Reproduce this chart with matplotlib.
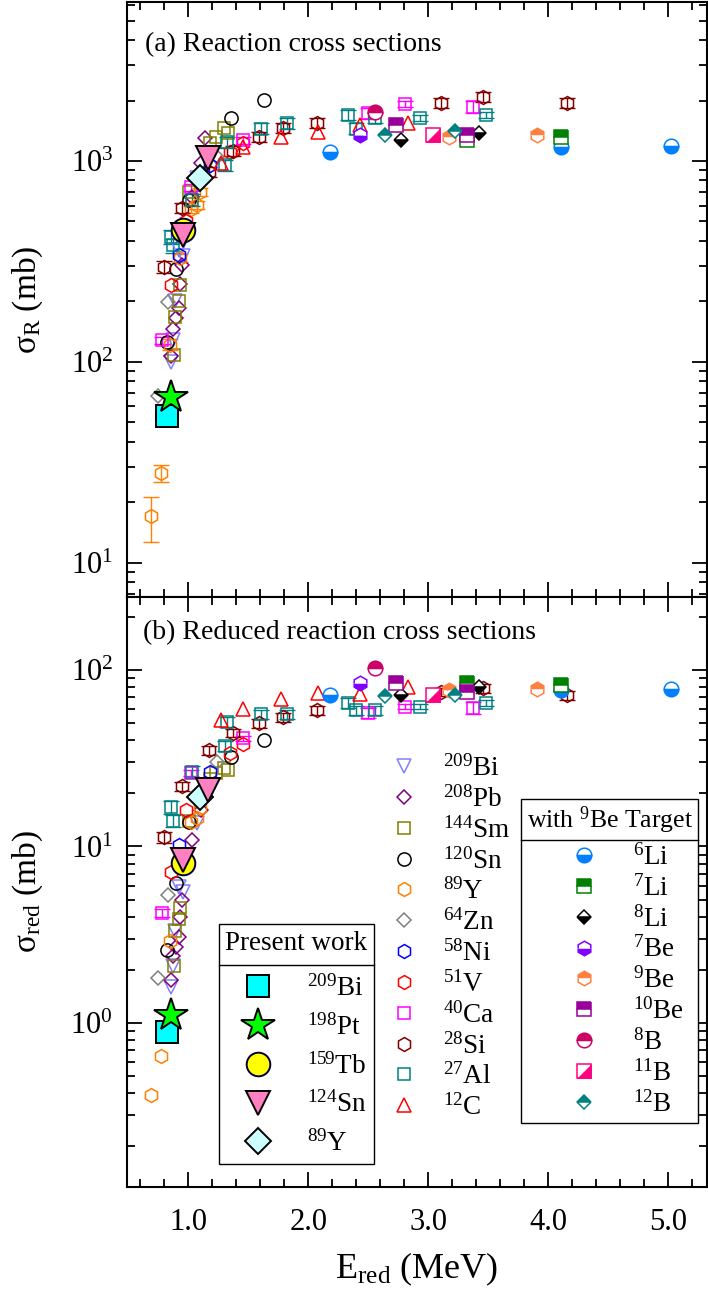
import matplotlib
matplotlib.use('Agg')
from matplotlib import pyplot as plt
from matplotlib.ticker import MultipleLocator, LogLocator, NullFormatter, FormatStrFormatter
from matplotlib.lines import Line2D

plt.rcParams['font.family'] = ['Liberation Serif', 'DejaVu Serif']
plt.rcParams['mathtext.fontset'] = 'custom'
plt.rcParams['mathtext.rm'] = 'Liberation Serif'
plt.rcParams['mathtext.it'] = 'Liberation Serif:italic'
plt.rcParams['mathtext.bf'] = 'Liberation Serif:bold'

# ---- literature data (E_red in MeV, sigma_R in mb, sigma_red in mb) ----
bi209_E = [0.855, 0.87, 0.89, 0.92, 0.96, 1.07]
bi209_R = [100, 128, 200, 360, 335, 823]
bi209_red = [1.6, 2.1, 3.3, 5.9, 5.5, 13.5]

pb208_E = [0.86, 0.875, 0.90, 0.92, 0.93, 0.95, 1.03, 1.11, 1.14]
pb208_R = [107, 146, 165, 186, 244, 303, 665, 976, 1300]
pb208_red = [1.75, 2.4, 2.7, 3.05, 4.0, 4.97, 10.9, 16, 21]

sm144_E = [0.88, 0.89, 0.92, 0.93, 1.01, 1.18, 1.23, 1.30, 1.33]
sm144_R = [108, 167, 200, 240, 700, 1230, 1320, 1460, 1380]
sm144_red = [2.1, 3.3, 3.9, 4.5, 14, 24, 26, 28, 27]

sn120_E = [0.82, 0.90, 1.01, 1.36, 1.63]
sn120_R = [125, 290, 640, 1632, 2015]
sn120_red = [2.6, 6.2, 13.7, 32, 40]

y89_E = [0.69, 0.77, 0.85, 0.93, 1.02, 1.07, 1.10]
y89_R = [17, 28, 122, 330, 575, 604, 703]
y89_red = [0.39, 0.65, 2.9, 8.0, 13.7, 14.5, 16.5]
y89_errR = [4.3, 2.8, 8, 15, 25, 25, 30]

zn64_E = [0.75, 0.83, 1.24]
zn64_R = [68, 198, 1050]
zn64_red = [1.8, 5.3, 30]

ni58_E = [0.92, 1.18]
ni58_R = [340, 950]
ni58_red = [10.2, 26.5]

v51_E = [0.86, 0.98, 1.35, 1.46]
v51_R = [240, 505, 1110, 1230]
v51_red = [7.2, 16, 34, 38]

ca40_E = [0.78, 1.02, 1.46, 2.50, 2.81, 3.37]
ca40_R = [128, 740, 1270, 1730, 1920, 1860]
ca40_red = [4.2, 26, 41, 57, 62, 61]
ca40_errR = [5, 30, 50, 110, 60, 130]
ca40_errRed = [0.2, 1.0, 1.5, 3.5, 2.0, 4.5]

si28_E = [0.80, 0.95, 1.17, 1.37, 1.59, 1.79, 2.07, 3.11, 3.46, 4.16]
si28_R = [298, 583, 880, 1120, 1320, 1460, 1545, 1940, 2090, 1940]
si28_red = [11.3, 22, 35, 44, 50, 54, 59, 75, 79, 72]
si28_errR = [20, 35, 50, 65, 80, 85, 90, 110, 120, 110]
si28_errRed = [0.8, 1.3, 2.0, 2.5, 3.0, 3.2, 3.4, 4.2, 4.5, 4.2]

al27_E = [0.86, 0.87, 1.03, 1.31, 1.32, 1.61, 1.82, 2.33, 2.40, 2.56, 2.93, 3.48]
al27_R = [420, 380, 640, 955, 1240, 1450, 1545, 1700, 1450, 1640, 1640, 1700]
al27_red = [16.7, 14.0, 26.5, 37, 51, 56, 56, 65, 59, 59, 62, 65]
al27_errR = [35, 30, 45, 60, 80, 90, 95, 100, 90, 100, 60, 60]
al27_errRed = [1.4, 1.1, 2.0, 2.4, 3.2, 3.5, 3.5, 4.0, 3.6, 3.6, 2.2, 2.2]

c12_E = [1.27, 1.46, 1.77, 2.08, 2.43, 2.83]
c12_R = [980, 1180, 1320, 1400, 1510, 1540]
c12_red = [52, 60, 68.6, 74, 73, 80]

# ---- with 9Be target ----
li6_E = [2.18, 4.11, 5.02]
li6_R = [1110, 1180, 1190]
li6_red = [72, 77, 78]
li7_E = [3.32, 4.11]
li7_R = [1270, 1320]
li7_red = [84, 82]
li8_E = [2.77, 3.42]
li8_R = [1270, 1380]
li8_red = [72, 80]
be7_E = [2.43]
be7_R = [1350]
be7_red = [84]
be9_E = [3.17, 3.91]
be9_R = [1320, 1350]
be9_red = [77, 78]
be10_E = [2.73, 3.32]
be10_R = [1510, 1350]
be10_red = [84, 75]
b8_E = [2.56]
b8_R = [1760]
b8_red = [103]
b11_E = [3.04]
b11_R = [1350]
b11_red = [72]
b12_E = [2.64, 3.22]
b12_R = [1350, 1415]
b12_red = [71, 72]

# ---- present work ----
pw_bi_E, pw_bi_R, pw_bi_red = [0.825], [54], [0.89]
pw_pt_E, pw_pt_R, pw_pt_red = [0.86], [67], [1.11]
pw_tb_E, pw_tb_R, pw_tb_red = [0.955], [455], [8.06]
pw_sn_E, pw_sn_R, pw_sn_red = [0.96, 1.165], [430, 1040], [8.4, 21]
pw_y_E, pw_y_R, pw_y_red = [1.10], [820], [19]

fig = plt.figure(figsize=(7.08, 12.92), dpi=100)
ax1 = fig.add_axes([127 / 708, 1 - 597 / 1292, 580 / 708, 595 / 1292])
ax2 = fig.add_axes([127 / 708, 1 - 1187 / 1292, 580 / 708, 590 / 1292])


def series(E, R, red, errR=None, errRed=None, z=3, **st):
    out = None
    for ax, vals, err in ((ax1, R, errR), (ax2, red, errRed)):
        if err is not None:
            ax.errorbar(E, vals, yerr=err, fmt='none', ecolor=st['mec'], elinewidth=1.0,
                        capsize=6, capthick=1.0, zorder=z - 0.1)
        ln, = ax.plot(E, vals, ls='none', zorder=z, **st)
        out = ln
    return out


def open_st(marker, color, ms):
    return dict(marker=marker, mfc='none', mec=color, ms=ms, mew=1.1)


def half_st(marker, color, ms, fs):
    return dict(marker=marker, mfc=color, mfcalt='white', fillstyle=fs, mec=color, ms=ms, mew=1.1)


lit_handles = [
    series(bi209_E, bi209_R, bi209_red, **open_st('v', '#8080FF', 10)),
    series(pb208_E, pb208_R, pb208_red, **open_st('D', '#800080', 7)),
    series(sm144_E, sm144_R, sm144_red, **open_st('s', '#808000', 9)),
    series(sn120_E, sn120_R, sn120_red, **open_st('o', 'black', 9.5)),
    series(y89_E, y89_R, y89_red, y89_errR, **open_st('h', '#FF8000', 10)),
    series(zn64_E, zn64_R, zn64_red, **open_st('D', '#808080', 7)),
    series(ni58_E, ni58_R, ni58_red, **open_st('h', '#0000FF', 10)),
    series(v51_E, v51_R, v51_red, **open_st('h', '#FF0000', 10)),
    series(ca40_E, ca40_R, ca40_red, ca40_errR, ca40_errRed, **open_st('s', '#FF00FF', 9)),
    series(si28_E, si28_R, si28_red, si28_errR, si28_errRed, **open_st('h', '#800000', 10)),
    series(al27_E, al27_R, al27_red, al27_errR, al27_errRed, **open_st('s', '#008080', 9)),
    series(c12_E, c12_R, c12_red, **open_st('^', '#FF0000', 10)),
]
lit_labels = [r'$^{209}$Bi', r'$^{208}$Pb', r'$^{144}$Sm', r'$^{120}$Sn', r'$^{89}$Y', r'$^{64}$Zn',
              r'$^{58}$Ni', r'$^{51}$V', r'$^{40}$Ca', r'$^{28}$Si', r'$^{27}$Al', r'$^{12}$C']

# 11B: open square with lower-right triangle filled
tri_verts = [(0.5, 0.5), (0.5, -0.5), (-0.5, -0.5)]
b11_sq = series(b11_E, b11_R, b11_red, z=4, marker='s', mfc='white', mec='#FF0080', ms=10, mew=1.1)
b11_tri = series(b11_E, b11_R, b11_red, z=4.05, marker=tri_verts, mfc='#FF0080', mec='#FF0080', ms=10, mew=0.5)

be_handles = [
    series(li6_E, li6_R, li6_red, z=4, **half_st('o', '#0080FF', 10.5, 'bottom')),
    series(li7_E, li7_R, li7_red, z=4, **half_st('s', '#008000', 9.5, 'top')),
    series(li8_E, li8_R, li8_red, z=4, **half_st('D', 'black', 7.5, 'bottom')),
    series(be7_E, be7_R, be7_red, z=4, **half_st('h', '#8000FF', 10.5, 'bottom')),
    series(be9_E, be9_R, be9_red, z=4, **half_st('h', '#FF8040', 10.5, 'top')),
    series(be10_E, be10_R, be10_red, z=4, **half_st('s', '#990099', 9.5, 'top')),
    series(b8_E, b8_R, b8_red, z=4, **half_st('o', '#CC0066', 10.5, 'top')),
    (b11_sq, b11_tri),
    series(b12_E, b12_R, b12_red, z=4, **half_st('D', '#008080', 7.5, 'top')),
]
be_labels = [r'$^{6}$Li', r'$^{7}$Li', r'$^{8}$Li', r'$^{7}$Be', r'$^{9}$Be', r'$^{10}$Be',
             r'$^{8}$B', r'$^{11}$B', r'$^{12}$B']

pw_handles = [
    series(pw_bi_E, pw_bi_R, pw_bi_red, z=5, marker='s', mfc='#00FFFF', mec='black', ms=15.5, mew=1.4),
    series(pw_pt_E, pw_pt_R, pw_pt_red, z=5.1, marker='*', mfc='#00FF00', mec='black', ms=25, mew=1.4),
    series(pw_tb_E, pw_tb_R, pw_tb_red, z=5, marker='o', mfc='#FFFF00', mec='#000040', ms=17, mew=1.4),
    series(pw_sn_E, pw_sn_R, pw_sn_red, z=5.05, marker='v', mfc='#FF80C0', mec='black', ms=17, mew=1.4),
    series(pw_y_E, pw_y_R, pw_y_red, z=5, marker='D', mfc='#CCFFFF', mec='black', ms=13, mew=1.4),
]
pw_labels = [r'$^{209}$Bi', r'$^{198}$Pt', r'$^{159}$Tb', r'$^{124}$Sn', r'$^{89}$Y']

for ax in (ax1, ax2):
    ax.set_yscale('log')
    ax.set_xlim(0.49, 5.323)
    ax.xaxis.set_major_locator(MultipleLocator(1.0))
    ax.xaxis.set_minor_locator(MultipleLocator(0.2))
    ax.xaxis.set_major_formatter(FormatStrFormatter('%.1f'))
    ax.yaxis.set_major_locator(LogLocator(base=10, numticks=10))
    ax.yaxis.set_minor_locator(LogLocator(base=10, subs=range(2, 10), numticks=20))
    ax.yaxis.set_minor_formatter(NullFormatter())
    ax.tick_params(which='both', direction='in', top=True, right=True, labelsize=22, width=1.3)
    ax.tick_params(which='major', length=11, pad=10)
    ax.tick_params(which='minor', length=5.5)
    ax.tick_params(axis='x', which='major', pad=15)
    for s in ax.spines.values():
        s.set_linewidth(1.5)

ax1.set_ylim(6.75, 6190)
ax2.set_ylim(0.1177, 259)
ax1.tick_params(labelbottom=False)

ax1.set_ylabel(r'σ$_\mathregular{R}$ (mb)', fontsize=24)
ax2.set_ylabel(r'σ$_\mathregular{red}$ (mb)', fontsize=24)
ax1.yaxis.set_label_coords(-0.142, 0.5)
ax2.yaxis.set_label_coords(-0.142, 0.5)
ax2.set_xlabel(r'E$_\mathregular{red}$ (MeV)', fontsize=26, labelpad=10)

ax1.text(0.031, 0.928, '(a) Reaction cross sections', transform=ax1.transAxes,
         fontsize=20, va='center', ha='left')
ax2.text(0.028, 0.94, '(b) Reduced reaction cross sections', transform=ax2.transAxes,
         fontsize=20, va='center', ha='left')

fs = 19.5
leg1 = ax2.legend(lit_handles, lit_labels, loc='upper left', bbox_to_anchor=(0.456, 0.732),
                  frameon=False, fontsize=fs, handlelength=0.95, handletextpad=0.97,
                  labelspacing=0.16, borderpad=0, borderaxespad=0)
ax2.add_artist(leg1)

leg2 = ax2.legend(be_handles, be_labels, title=r'with $^{9}$Be Target', title_fontsize=18.5,
                  loc='upper left', bbox_to_anchor=(0.680, 0.658), fontsize=fs, frameon=True,
                  fancybox=False, edgecolor='black', framealpha=1, handlelength=3.6,
                  handletextpad=0.02, labelspacing=0.16, borderpad=0.2, borderaxespad=0)
leg2.get_frame().set_linewidth(1.0)
leg2._legend_box.sep = 6
ax2.add_artist(leg2)

leg3 = ax2.legend(pw_handles, pw_labels, title='Present work', title_fontsize=fs,
                  loc='upper left', bbox_to_anchor=(0.158, 0.446), fontsize=fs, frameon=True,
                  fancybox=False, edgecolor='black', framealpha=1, handlelength=2.3,
                  handletextpad=0.66, labelspacing=0.455, borderpad=0.25, borderaxespad=0)
leg3.get_frame().set_linewidth(1.0)
leg3._legend_box.sep = 14

# separator line under the legend titles
fig.canvas.draw()
renderer = fig.canvas.get_renderer()
inv = fig.transFigure.inverted()
for leg in (leg2, leg3):
    fb = leg.get_frame().get_window_extent()
    tb = leg.get_title().get_window_extent()
    hb = leg._legend_handle_box.get_window_extent(renderer)
    yl = 0.5 * (tb.y0 + hb.y1)
    (x0, y0), (x1, _) = inv.transform([(fb.x0, yl), (fb.x1, yl)])
    fig.add_artist(Line2D([x0, x1], [y0, y0], color='black', lw=1.0, transform=fig.transFigure))

fig.savefig('out.png', dpi=100)
